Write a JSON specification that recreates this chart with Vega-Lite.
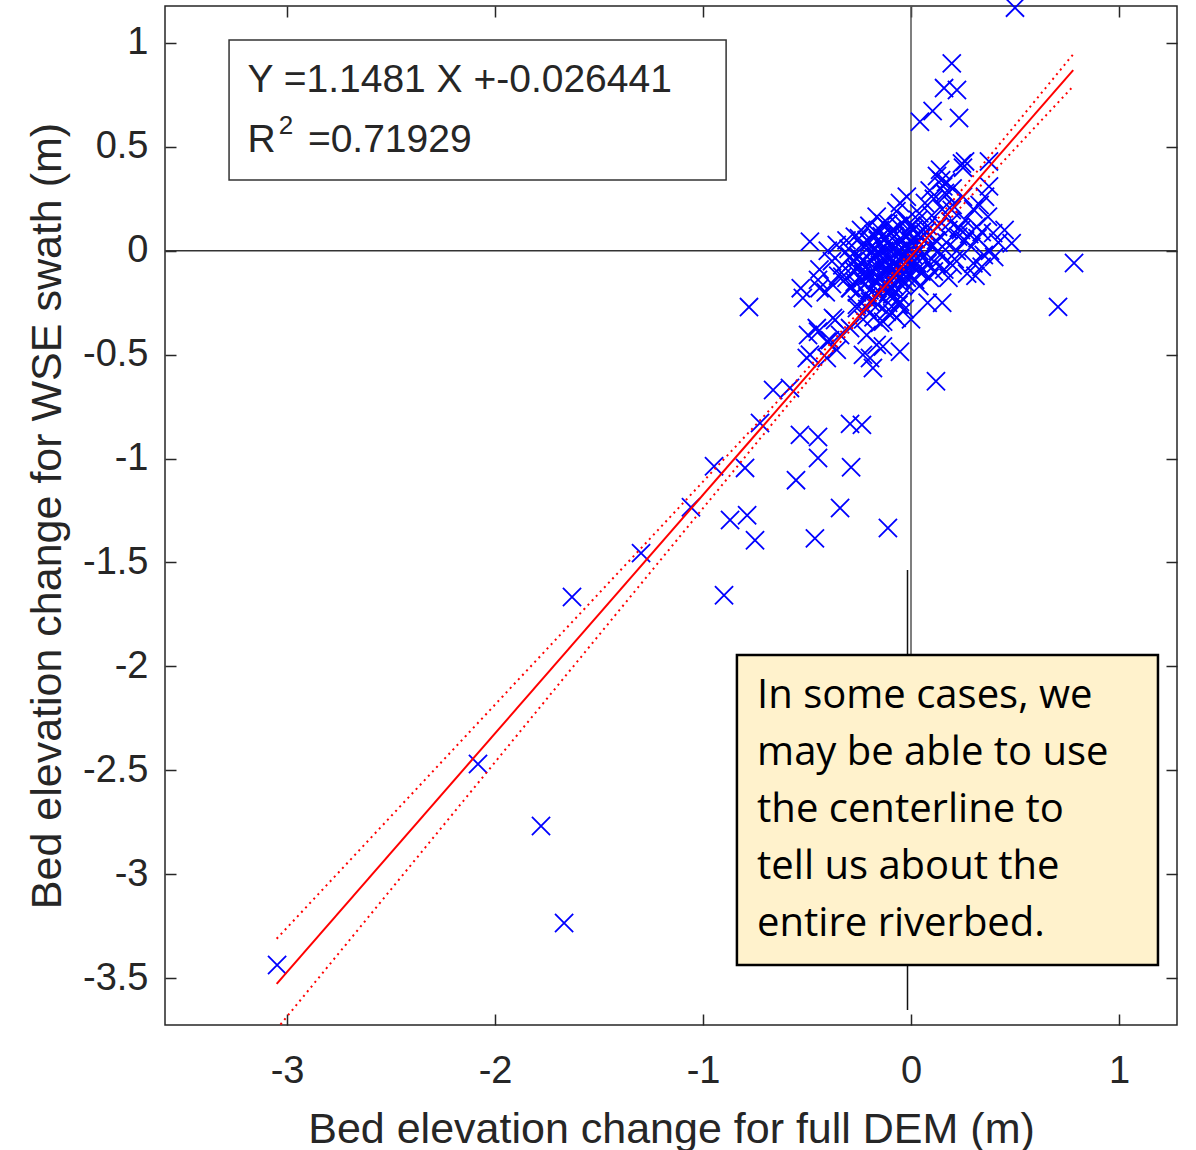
{
  "$schema": "https://vega.github.io/schema/vega-lite/v6.json",
  "width": 1012,
  "height": 1019,
  "autosize": {"type": "none"},
  "padding": {"left": 165, "top": 6, "right": 19, "bottom": 125},
  "background": "white",
  "config": {
    "view": {"stroke": "#262626", "strokeWidth": 1.5},
    "axis": {
      "grid": false, "domain": false,
      "labelFont": "Liberation Sans", "labelFontSize": 38, "labelColor": "#262626",
      "tickColor": "#262626", "tickWidth": 1.5, "tickSize": -11,
      "titleFont": "Liberation Sans", "titleFontSize": 43, "titleFontWeight": "normal", "titleColor": "#262626"
    }
  },
  "datasets": {
    "scatter": [
      {"x": -3.048, "y": -3.437}, {"x": -2.082, "y": -2.47}, {"x": -1.779, "y": -2.768}, {"x": -1.668, "y": -3.235},
      {"x": -1.63, "y": -1.666}, {"x": -1.298, "y": -1.455}, {"x": -1.058, "y": -1.234}, {"x": -0.947, "y": -1.037},
      {"x": -0.87, "y": -1.296}, {"x": -0.788, "y": -1.273}, {"x": -0.75, "y": -1.393}, {"x": -0.899, "y": -1.658},
      {"x": -0.798, "y": -1.045}, {"x": -0.726, "y": -0.829}, {"x": -0.663, "y": -0.67}, {"x": -0.582, "y": -0.66},
      {"x": -0.534, "y": -0.886}, {"x": -0.447, "y": -0.896}, {"x": -0.447, "y": -0.997}, {"x": -0.553, "y": -1.104},
      {"x": -0.293, "y": -0.833}, {"x": -0.236, "y": -0.838}, {"x": -0.288, "y": -1.042}, {"x": -0.341, "y": -1.238},
      {"x": -0.462, "y": -1.384}, {"x": -0.111, "y": -1.334}, {"x": 0.12, "y": -0.628}, {"x": -0.779, "y": -0.271},
      {"x": -0.495, "y": -0.405}, {"x": -0.447, "y": -0.39}, {"x": -0.501, "y": -0.516}, {"x": -0.389, "y": -0.43},
      {"x": -0.365, "y": -0.333}, {"x": -0.231, "y": -0.501}, {"x": -0.183, "y": -0.564}, {"x": -0.135, "y": -0.461},
      {"x": -0.149, "y": -0.347}, {"x": -0.293, "y": -0.372},
      {"x": -0.29, "y": -0.18}, {"x": -0.27, "y": -0.1}, {"x": -0.26, "y": -0.2}, {"x": -0.25, "y": -0.03},
      {"x": -0.24, "y": -0.14}, {"x": -0.23, "y": 0.02}, {"x": -0.22, "y": -0.08}, {"x": -0.21, "y": -0.22},
      {"x": -0.2, "y": -0.12}, {"x": -0.2, "y": 0.04}, {"x": -0.19, "y": -0.05}, {"x": -0.18, "y": -0.17},
      {"x": -0.18, "y": 0.08}, {"x": -0.17, "y": -0.09}, {"x": -0.16, "y": -0.01}, {"x": -0.16, "y": -0.21},
      {"x": -0.15, "y": -0.13}, {"x": -0.15, "y": 0.03}, {"x": -0.14, "y": -0.06}, {"x": -0.14, "y": -0.18},
      {"x": -0.13, "y": 0.0}, {"x": -0.13, "y": -0.1}, {"x": -0.12, "y": 0.06}, {"x": -0.12, "y": -0.15},
      {"x": -0.11, "y": -0.04}, {"x": -0.11, "y": -0.2}, {"x": -0.1, "y": -0.08}, {"x": -0.1, "y": 0.02},
      {"x": -0.09, "y": -0.12}, {"x": -0.09, "y": 0.1}, {"x": -0.08, "y": -0.02}, {"x": -0.08, "y": -0.17},
      {"x": -0.07, "y": 0.04}, {"x": -0.07, "y": -0.07}, {"x": -0.06, "y": -0.13}, {"x": -0.06, "y": 0.12},
      {"x": -0.05, "y": -0.03}, {"x": -0.05, "y": -0.22}, {"x": -0.04, "y": 0.01}, {"x": -0.04, "y": -0.09},
      {"x": -0.03, "y": 0.07}, {"x": -0.03, "y": -0.15}, {"x": -0.02, "y": -0.05}, {"x": -0.02, "y": 0.15},
      {"x": -0.01, "y": 0.02}, {"x": -0.01, "y": -0.11}, {"x": 0.0, "y": 0.05}, {"x": 0.0, "y": -0.07},
      {"x": 0.01, "y": -0.02}, {"x": 0.01, "y": 0.1}, {"x": 0.02, "y": -0.14}, {"x": 0.02, "y": 0.03},
      {"x": 0.03, "y": 0.08}, {"x": 0.03, "y": -0.06}, {"x": 0.04, "y": 0.0}, {"x": 0.04, "y": 0.18},
      {"x": 0.05, "y": -0.1}, {"x": 0.05, "y": 0.06},
      {"x": -0.22, "y": -0.16}, {"x": -0.19, "y": -0.1}, {"x": -0.17, "y": -0.03}, {"x": -0.15, "y": -0.07},
      {"x": -0.13, "y": -0.16}, {"x": -0.12, "y": -0.02}, {"x": -0.1, "y": -0.14}, {"x": -0.08, "y": -0.09},
      {"x": -0.06, "y": -0.04}, {"x": -0.04, "y": -0.17}, {"x": -0.02, "y": -0.1}, {"x": 0.0, "y": 0.0},
      {"x": -0.14, "y": 0.07}, {"x": -0.11, "y": 0.13}, {"x": -0.07, "y": 0.19}, {"x": -0.25, "y": 0.06},
      {"x": -0.28, "y": -0.05}, {"x": -0.31, "y": -0.13}, {"x": -0.33, "y": -0.07}, {"x": -0.3, "y": 0.01},
      {"x": -0.35, "y": -0.12}, {"x": -0.38, "y": -0.16}, {"x": -0.41, "y": -0.2}, {"x": -0.26, "y": -0.26},
      {"x": -0.21, "y": -0.28}, {"x": -0.16, "y": -0.26}, {"x": -0.11, "y": -0.25}, {"x": -0.06, "y": -0.26},
      {"x": -0.03, "y": -0.28}, {"x": -0.09, "y": -0.3}, {"x": -0.18, "y": -0.32}, {"x": -0.23, "y": -0.33},
      {"x": -0.27, "y": -0.15}, {"x": -0.24, "y": -0.06}, {"x": -0.21, "y": -0.12}, {"x": -0.19, "y": 0.0},
      {"x": -0.17, "y": -0.14}, {"x": -0.16, "y": 0.05}, {"x": -0.14, "y": -0.11}, {"x": -0.13, "y": -0.04},
      {"x": -0.12, "y": -0.09}, {"x": -0.11, "y": 0.04}, {"x": -0.1, "y": -0.18}, {"x": -0.09, "y": -0.05},
      {"x": -0.08, "y": 0.07}, {"x": -0.07, "y": -0.12}, {"x": -0.06, "y": 0.0}, {"x": -0.05, "y": -0.1},
      {"x": -0.04, "y": 0.05}, {"x": -0.03, "y": -0.02}, {"x": -0.02, "y": -0.13}, {"x": -0.01, "y": 0.08},
      {"x": 0.01, "y": -0.05}, {"x": 0.02, "y": 0.06}, {"x": 0.03, "y": -0.09}, {"x": 0.06, "y": -0.03},
      {"x": 0.07, "y": 0.09}, {"x": 0.09, "y": -0.13}, {"x": -0.2, "y": -0.19}, {"x": -0.23, "y": -0.11},
      {"x": -0.26, "y": -0.09}, {"x": -0.18, "y": -0.24}, {"x": -0.09, "y": -0.21}, {"x": -0.15, "y": 0.1},
      {"x": -0.04, "y": 0.13}, {"x": 0.0, "y": 0.12}, {"x": 0.04, "y": -0.17}, {"x": 0.13, "y": 0.0},
      {"x": 0.17, "y": 0.04}, {"x": 0.2, "y": -0.07}, {"x": 0.23, "y": 0.11}, {"x": 0.26, "y": 0.05},
      {"x": 0.3, "y": -0.06}, {"x": 0.34, "y": 0.09}, {"x": 0.38, "y": 0.0}, {"x": 0.19, "y": 0.14},
      {"x": 0.15, "y": 0.2}, {"x": 0.09, "y": 0.29}, {"x": 0.12, "y": -0.06},
      {"x": -0.486, "y": 0.044}, {"x": -0.357, "y": 0.028}, {"x": -0.27, "y": 0.068}, {"x": -0.165, "y": 0.164},
      {"x": -0.134, "y": 0.134}, {"x": -0.053, "y": 0.23}, {"x": -0.02, "y": 0.26}, {"x": -0.447, "y": -0.14},
      {"x": -0.33, "y": -0.125}, {"x": -0.213, "y": 0.052}, {"x": -0.293, "y": -0.028}, {"x": -0.23, "y": -0.044},
      {"x": -0.165, "y": -0.01}, {"x": -0.1, "y": 0.086}, {"x": -0.2, "y": 0.12}, {"x": -0.24, "y": 0.1},
      {"x": -0.31, "y": 0.05}, {"x": -0.4, "y": 0.0}, {"x": -0.38, "y": -0.05}, {"x": -0.44, "y": -0.09},
      {"x": -0.52, "y": -0.227}, {"x": -0.44, "y": -0.18}, {"x": -0.453, "y": -0.372}, {"x": -0.375, "y": -0.323},
      {"x": -0.405, "y": -0.437}, {"x": -0.341, "y": -0.405}, {"x": -0.486, "y": -0.5}, {"x": -0.405, "y": -0.516},
      {"x": -0.357, "y": -0.477}, {"x": -0.213, "y": -0.405}, {"x": -0.165, "y": -0.453}, {"x": -0.197, "y": -0.516},
      {"x": -0.053, "y": -0.486}, {"x": -0.134, "y": -0.341}, {"x": -0.26, "y": -0.276}, {"x": -0.197, "y": -0.245},
      {"x": -0.293, "y": -0.179}, {"x": -0.53, "y": -0.18}, {"x": -0.117, "y": -0.293}, {"x": -0.069, "y": -0.323},
      {"x": -0.053, "y": -0.245},
      {"x": 0.484, "y": 0.036}, {"x": 0.395, "y": 0.085}, {"x": 0.4, "y": -0.03}, {"x": 0.34, "y": -0.077},
      {"x": 0.27, "y": -0.11}, {"x": 0.21, "y": -0.04}, {"x": 0.16, "y": -0.09}, {"x": 0.356, "y": 0.26},
      {"x": 0.37, "y": 0.164}, {"x": 0.316, "y": 0.116}, {"x": 0.26, "y": 0.148}, {"x": 0.196, "y": 0.196},
      {"x": 0.227, "y": 0.068}, {"x": 0.163, "y": 0.278}, {"x": 0.067, "y": 0.23}, {"x": 0.034, "y": 0.148},
      {"x": 0.13, "y": 0.116}, {"x": 0.1, "y": 0.02}, {"x": 0.08, "y": -0.06}, {"x": 0.29, "y": 0.02},
      {"x": 0.45, "y": 0.1}, {"x": 0.784, "y": -0.059}, {"x": 0.707, "y": -0.27}, {"x": 0.15, "y": -0.25},
      {"x": 0.08, "y": -0.25}, {"x": 0.0, "y": -0.33}, {"x": 0.31, "y": -0.12}, {"x": 0.18, "y": -0.13},
      {"x": 0.12, "y": 0.05}, {"x": 0.14, "y": -0.02}, {"x": 0.18, "y": 0.1}, {"x": 0.22, "y": 0.0},
      {"x": 0.24, "y": 0.1}, {"x": 0.32, "y": 0.06}, {"x": 0.35, "y": -0.02}, {"x": 0.1, "y": 0.17},
      {"x": 0.06, "y": 0.08}, {"x": 0.08, "y": 0.12}, {"x": 0.11, "y": -0.1}, {"x": 0.2, "y": 0.22},
      {"x": 0.42, "y": 0.04}, {"x": 0.28, "y": 0.08}, {"x": 0.3, "y": 0.2}, {"x": 0.25, "y": 0.26},
      {"x": 0.14, "y": 0.39}, {"x": 0.168, "y": 0.33}, {"x": 0.125, "y": 0.36}, {"x": 0.145, "y": 0.34},
      {"x": 0.155, "y": 0.31}, {"x": 0.245, "y": 0.42}, {"x": 0.26, "y": 0.43}, {"x": 0.25, "y": 0.4},
      {"x": 0.375, "y": 0.43}, {"x": 0.375, "y": 0.31}, {"x": 0.2, "y": 0.3}, {"x": 0.17, "y": 0.27},
      {"x": 0.33, "y": 0.22}, {"x": 0.11, "y": 0.25},
      {"x": 0.5, "y": 1.17}, {"x": 0.196, "y": 0.902}, {"x": 0.159, "y": 0.783}, {"x": 0.221, "y": 0.774},
      {"x": 0.104, "y": 0.673}, {"x": 0.043, "y": 0.621}, {"x": 0.231, "y": 0.639}
    ],
    "fit": [{"x": -3.05, "y": -3.528}, {"x": 0.78, "y": 0.869}],
    "band": [
      {"bound": "upper", "x": -3.05, "y": -3.311}, {"bound": "upper", "x": -2.5, "y": -2.721},
      {"bound": "upper", "x": -2.0, "y": -2.184}, {"bound": "upper", "x": -1.5, "y": -1.648},
      {"bound": "upper", "x": -1.0, "y": -1.111}, {"bound": "upper", "x": -0.5, "y": -0.570},
      {"bound": "upper", "x": -0.2, "y": -0.236}, {"bound": "upper", "x": 0.2, "y": 0.240},
      {"bound": "upper", "x": 0.5, "y": 0.604}, {"bound": "upper", "x": 0.78, "y": 0.946},
      {"bound": "lower", "x": -3.05, "y": -3.746}, {"bound": "lower", "x": -2.5, "y": -3.073},
      {"bound": "lower", "x": -2.0, "y": -2.461}, {"bound": "lower", "x": -1.5, "y": -1.849},
      {"bound": "lower", "x": -1.0, "y": -1.239}, {"bound": "lower", "x": -0.5, "y": -0.631},
      {"bound": "lower", "x": -0.2, "y": -0.276}, {"bound": "lower", "x": 0.2, "y": 0.167},
      {"bound": "lower", "x": 0.5, "y": 0.491}, {"bound": "lower", "x": 0.78, "y": 0.792}
    ],
    "hline": [{"x": -3.587, "x2": 1.279, "y": 0}],
    "vline": [{"x": 0, "y": 1.178, "y2": -2.0}],
    "connector": [{"x": -0.0168, "y": -1.536, "y2": -3.654}],
    "legendbox": [{"x": -3.279, "x2": -0.889, "y": 1.0144, "y2": 0.3407}],
    "notebox": [{"x": -0.837, "x2": 1.1875, "y": -1.945, "y2": -3.437}],
    "legendtext": [
      {"x": -3.19, "y": 0.764, "text": "Y =1.1481 X +-0.026441"},
      {"x": -3.19, "y": 0.4755, "text": "R"},
      {"x": -2.9, "y": 0.4755, "text": "=0.71929"}
    ],
    "supertext": [{"x": -3.04, "y": 0.56, "text": "2"}],
    "notetext": [
      {"x": -0.74, "y": -2.2, "text": "In some cases, we"},
      {"x": -0.74, "y": -2.475, "text": "may be able to use"},
      {"x": -0.74, "y": -2.748, "text": "the centerline to"},
      {"x": -0.74, "y": -3.023, "text": "tell us about the"},
      {"x": -0.74, "y": -3.297, "text": "entire riverbed."}
    ]
  },
  "encoding": {
    "x": {"field": "x", "type": "quantitative", "scale": {"domain": [-3.587, 1.279], "nice": false, "zero": false}, "axis": null},
    "y": {"field": "y", "type": "quantitative", "scale": {"domain": [-3.726, 1.178], "nice": false, "zero": false}, "axis": null}
  },
  "layer": [
    {
      "data": {"name": "hline"},
      "mark": {"type": "rule", "color": "#333333", "strokeWidth": 1.5},
      "encoding": {
        "x": {"field": "x", "type": "quantitative", "scale": {"domain": [-3.587, 1.279], "nice": false, "zero": false},
              "axis": {"orient": "top", "values": [-3, -2, -1, 0, 1], "labels": false, "title": null}},
        "x2": {"field": "x2"},
        "y": {"field": "y", "type": "quantitative", "scale": {"domain": [-3.726, 1.178], "nice": false, "zero": false},
              "axis": {"orient": "right", "values": [-3.5, -3, -2.5, -2, -1.5, -1, -0.5, 0, 0.5, 1], "labels": false, "title": null}}
      }
    },
    {
      "data": {"name": "vline"},
      "mark": {"type": "rule", "color": "#555555", "strokeWidth": 1.5},
      "encoding": {"y2": {"field": "y2"}}
    },
    {
      "data": {"name": "connector"},
      "mark": {"type": "rule", "color": "#111111", "strokeWidth": 1.5},
      "encoding": {"y2": {"field": "y2"}}
    },
    {
      "data": {"name": "scatter"},
      "mark": {"type": "point", "shape": "M-1,-1L1,1M-1,1L1,-1", "filled": false, "size": 330, "stroke": "#0000FF", "strokeWidth": 1.8, "opacity": 1},
      "encoding": {
        "x": {"field": "x", "type": "quantitative", "scale": {"domain": [-3.587, 1.279], "nice": false, "zero": false},
              "axis": {"orient": "bottom", "values": [-3, -2, -1, 0, 1], "labelExpr": "datum.value + ''", "labelPadding": 38,
                       "title": "Bed elevation change for full DEM (m)", "titleY": 117, "titleBaseline": "alphabetic"}},
        "y": {"field": "y", "type": "quantitative", "scale": {"domain": [-3.726, 1.178], "nice": false, "zero": false},
              "axis": {"orient": "left", "values": [-3.5, -3, -2.5, -2, -1.5, -1, -0.5, 0, 0.5, 1], "labelExpr": "datum.value + ''", "labelPadding": 28,
                       "title": "Bed elevation change for WSE swath (m)", "titleX": -105, "titleBaseline": "alphabetic"}}
      }
    },
    {
      "data": {"name": "band"},
      "mark": {"type": "line", "color": "#FF0000", "strokeWidth": 2, "strokeDash": [2, 4], "clip": true, "interpolate": "monotone"},
      "encoding": {"detail": {"field": "bound"}}
    },
    {
      "data": {"name": "fit"},
      "mark": {"type": "line", "color": "#FF0000", "strokeWidth": 2}
    },
    {
      "data": {"name": "legendbox"},
      "mark": {"type": "rect", "fill": "white", "stroke": "#333333", "strokeWidth": 1.5},
      "encoding": {"x2": {"field": "x2"}, "y2": {"field": "y2"}}
    },
    {
      "data": {"name": "legendtext"},
      "mark": {"type": "text", "font": "Liberation Sans", "fontSize": 39, "align": "left", "baseline": "alphabetic", "color": "#262626"},
      "encoding": {"text": {"field": "text"}}
    },
    {
      "data": {"name": "supertext"},
      "mark": {"type": "text", "font": "Liberation Sans", "fontSize": 26, "align": "left", "baseline": "alphabetic", "color": "#262626"},
      "encoding": {"text": {"field": "text"}}
    },
    {
      "data": {"name": "notebox"},
      "mark": {"type": "rect", "fill": "#FFF2CC", "stroke": "#000000", "strokeWidth": 2.5},
      "encoding": {"x2": {"field": "x2"}, "y2": {"field": "y2"}}
    },
    {
      "data": {"name": "notetext"},
      "mark": {"type": "text", "font": "Open Sans", "fontSize": 40, "align": "left", "baseline": "alphabetic", "color": "#000000"},
      "encoding": {"text": {"field": "text"}}
    }
  ]
}
